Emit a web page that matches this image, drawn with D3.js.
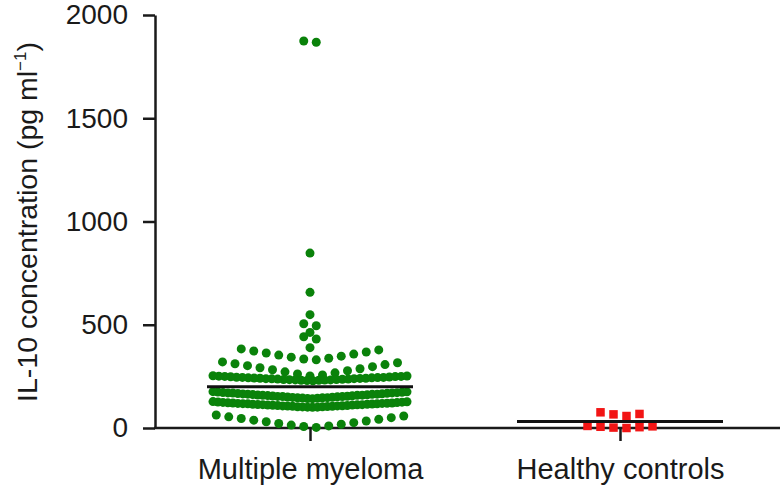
<!DOCTYPE html>
<html><head><meta charset="utf-8">
<script src="https://cdn.jsdelivr.net/npm/d3@7"></script>
<style>body{margin:0;background:#fff} svg{display:block}</style>
</head><body><svg id="c" width="780" height="485"></svg>
<script>
const categories = ["Multiple myeloma", "Healthy controls"];
const yTicks = [0, 500, 1000, 1500, 2000];
const yTitle = "IL-10 concentration (pg ml";
const mmRows = [
  [1868, 1874],
  [847],
  [657],
  [549],
  [495, 505],
  [463],
  [431, 442],
  [389],
  [330, 334, 338, 343, 348, 353, 358, 363, 368, 373, 378, 383],
  [252, 257, 262, 267, 272, 277, 282, 287, 292, 297, 302, 307, 311, 316, 320],
  [229,230,231,231,232,233,233,234,235,235,236,237,237,238,239,239,240,241,241,242,243,243,244,245,245,246,247,248,249,250,250,251,252,253],
  [142,143,144,145,146,146,147,148,149,150,151,152,152,153,154,155,156,157,158,158,159,160,161,162,163,164,164,165,166,167,168,169,170,170,171,172,173,174,175,176],
  [100,101,101,102,103,103,104,105,105,106,107,107,108,109,109,110,111,111,112,113,113,114,115,115,116,117,117,118,119,119,120,121,121,122,123,124,125,126,127,128],
  [3, 7, 10, 14, 18, 22, 26, 30, 34, 38, 42, 46, 50, 54, 58, 63]
];
const hcRows = [
  [0, 2, 4, 6, 8, 10],
  [58, 66, 68, 76]
];
const centerLines = [200, 32];

const FONT = "'Liberation Sans', Arial, Helvetica, sans-serif";
const INK = "#1a1a1a";
const svg = d3.select("#c");
const y = d3.scaleLinear().domain([0, 2000]).range([428, 15]);
const x = d3.scalePoint().domain(categories).range([155, 775]).padding(0.5);

function layout(rows, cat, spacing, maxSpan) {
  const pts = [];
  rows.forEach(row => {
    const vals = row.slice().sort((a, b) => a - b);
    const n = vals.length;
    const s = n > 1 ? Math.min(spacing, maxSpan / (n - 1)) : 0;
    vals.forEach((v, i) => {
      let off;
      if (n % 2 === 1) { const k = Math.ceil(i / 2); off = i === 0 ? 0 : (i % 2 === 1 ? k : -k); }
      else { const k = Math.floor(i / 2) + 0.5; off = i % 2 === 0 ? k : -k; }
      pts.push({ v, dx: off * s, cat });
    });
  });
  return pts;
}

// y axis
const gy = svg.append("g").attr("transform", "translate(155,0)")
  .call(d3.axisLeft(y).tickValues(yTicks).tickFormat(d3.format("d")).tickSize(12).tickSizeOuter(0).tickPadding(15));
gy.select(".domain").attr("stroke", INK).attr("stroke-width", 2.5);
gy.selectAll(".tick line").attr("stroke", INK).attr("stroke-width", 2.5);
gy.selectAll(".tick text").attr("font-family", FONT).attr("font-size", 28).attr("fill", INK);

// x axis
const gx = svg.append("g").attr("transform", `translate(0,${y(0)})`)
  .call(d3.axisBottom(x).tickSize(13).tickSizeOuter(0).tickPadding(17));
gx.select(".domain").remove();
gx.append("line").attr("x1", 154).attr("x2", 780).attr("stroke", INK).attr("stroke-width", 2.5);
gx.selectAll(".tick line").attr("stroke", INK).attr("stroke-width", 2.5);
gx.selectAll(".tick text").attr("font-family", FONT).attr("font-size", 29).attr("fill", INK);

// y title
const t = svg.append("text").attr("transform", "translate(37,222) rotate(-90)")
  .attr("text-anchor", "middle").attr("font-family", FONT).attr("font-size", 28.5).attr("fill", INK);
t.append("tspan").text(yTitle);
t.append("tspan").attr("font-size", 17).attr("dy", -11).text("\u22121");
t.append("tspan").attr("dy", 11).text(")");

// points
const mmPts = layout(mmRows, categories[0], 12.5, 194);
svg.append("g").selectAll("circle").data(mmPts).join("circle")
  .attr("cx", d => x(d.cat) + d.dx).attr("cy", d => y(d.v)).attr("r", 4.5)
  .attr("fill", "#0a820a");

const hcPts = layout(hcRows, categories[1], 13, 194);
const sq = 8.5;
svg.append("g").selectAll("rect").data(hcPts).join("rect")
  .attr("x", d => x(d.cat) + d.dx - sq / 2).attr("y", d => y(d.v) - sq / 2)
  .attr("width", sq).attr("height", sq).attr("fill", "#f21515");

// center lines
svg.append("g").selectAll("line").data(centerLines).join("line")
  .attr("x1", (d, i) => x(categories[i]) - 103).attr("x2", (d, i) => x(categories[i]) + 103)
  .attr("y1", d => y(d)).attr("y2", d => y(d))
  .attr("stroke", "#111").attr("stroke-width", 3);
</script></body></html>
